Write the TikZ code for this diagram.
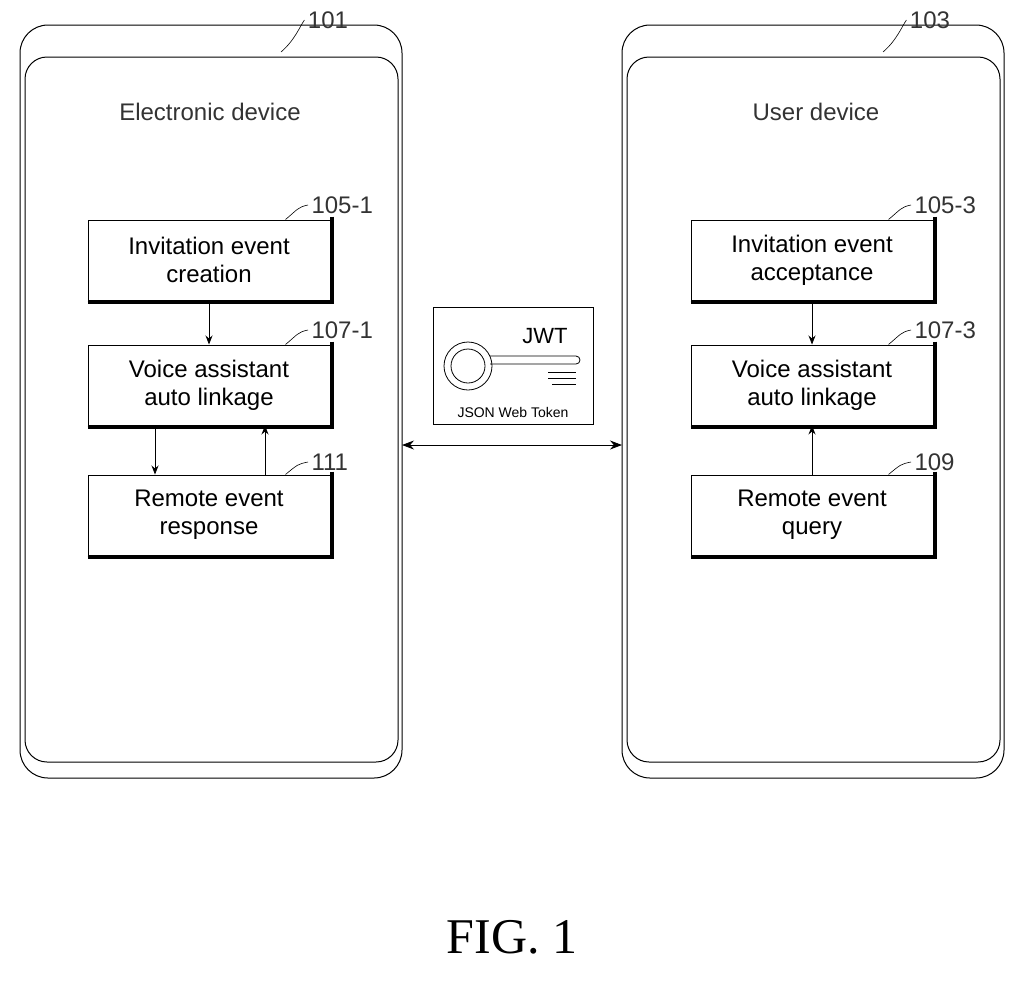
\documentclass[tikz,border=0pt]{standalone}
\usepackage{fontspec}
\setmainfont{Liberation Sans}
\newfontfamily\seriffont{Liberation Serif}
\usetikzlibrary{arrows.meta}
\begin{document}
\begin{tikzpicture}[x=1pt,y=-1pt,
  lab/.style={font=\fontsize{24}{28}\selectfont,text=black!80},
  blk/.style={draw,line width=1pt,minimum width=242pt,minimum height=80pt,align=center,font=\fontsize{24}{28}\selectfont,
    append after command={\pgfextra{\let\mynode\tikzlastnode}
      (\mynode.north east) ++(1.5pt,3pt) edge[draw,line width=4pt,-] ([xshift=1.5pt]\mynode.south east)
      ([yshift=-1.5pt]\mynode.south west) edge[draw,line width=3pt,-] ([xshift=3.5pt,yshift=-1.5pt]\mynode.south east)}},
  arr/.style={-{Stealth[length=9pt,width=7pt]},line width=0.8pt},
  lead/.style={line width=0.6pt}]
\useasboundingbox (0,0) rectangle (1024,1005);
% devices
\draw[line width=1pt,rounded corners=28pt] (20,25) rectangle (402,778);
\draw[line width=1pt,rounded corners=22pt] (25,57) rectangle (398,762);
\draw[line width=1pt,rounded corners=28pt] (622,25) rectangle (1004,778);
\draw[line width=1pt,rounded corners=22pt] (627,57) rectangle (1000,762);
\node[lab] (ed) at (210,112) {Electronic device};
\node[lab] (ud) at (816,112) {User device};
% blocks
\node[blk] (a1) at (209,260) {Invitation event\\creation};
\node[blk] (b1) at (209,385) {Voice assistant\\auto linkage};
\node[blk] (c1) at (209,515) {Remote event\\response};
\node[blk] (a3) at (812,260) {Invitation event\\acceptance};
\node[blk] (b3) at (812,385) {Voice assistant\\auto linkage};
\node[blk] (c3) at (812,515) {Remote event\\query};
\draw[arr] (a1.south) -- (b1.north);
\draw[arr] (b1.south -| 155,0) -- (c1.north -| 155,0);
\draw[arr] (c1.north -| 265,0) -- (b1.south -| 265,0);
\draw[arr] (a3.south) -- (b3.north);
\draw[arr] (c3.north) -- (b3.south);
% JWT
\node[draw,line width=0.8pt,minimum width=160pt,minimum height=117pt] (jwt) at (513,366) {};
\node[font=\fontsize{22}{24}\selectfont] (jwtt) at (545,336) {JWT};
\node[font=\fontsize{14}{16}\selectfont] (jwts) at (513,412) {JSON Web Token};
\coordinate (kc) at (468,366);
\draw[line width=0.8pt] (kc) circle (24pt);
\draw[line width=0.8pt] (kc) circle (17pt);
\draw[line width=0.8pt] (490,356) -- (576,356) arc (90:-90:4pt) -- (490,364);
\draw[line width=0.7pt] (548,372) -- (576,372) (548,378) -- (576,378) (552,384) -- (576,384);
\coordinate (la) at (402,445);
\coordinate (ra) at (622,445);
\draw[{Stealth[length=12pt,width=9pt]}-{Stealth[length=12pt,width=9pt]},line width=0.8pt] (la) -- (ra);
% labels
\node[lab] (l101) at (328,20) {101};
\draw[lead] (281,52) .. controls (295,40) and (300,26) .. (l101.west);
\node[lab] (l103) at (930,20) {103};
\draw[lead] (883,52) .. controls (897,40) and (902,26) .. (l103.west);
\node[lab,anchor=west] (l1051) at (308,205) {105-1};
\draw[lead] (a1.north east) ++(-45,0) .. controls +(12,-10) and +(-10,2) .. (l1051.west);
\node[lab,anchor=west] (l1071) at (308,330) {107-1};
\draw[lead] (b1.north east) ++(-45,0) .. controls +(12,-10) and +(-10,2) .. (l1071.west);
\node[lab,anchor=west] (l111) at (308,462) {111};
\draw[lead] (c1.north east) ++(-45,0) .. controls +(12,-10) and +(-10,2) .. (l111.west);
\node[lab,anchor=west] (l1053) at (911,205) {105-3};
\draw[lead] (a3.north east) ++(-45,0) .. controls +(12,-10) and +(-10,2) .. (l1053.west);
\node[lab,anchor=west] (l1073) at (911,330) {107-3};
\draw[lead] (b3.north east) ++(-45,0) .. controls +(12,-10) and +(-10,2) .. (l1073.west);
\node[lab,anchor=west] (l109) at (911,462) {109};
\draw[lead] (c3.north east) ++(-45,0) .. controls +(12,-10) and +(-10,2) .. (l109.west);
\node[font=\seriffont\fontsize{50}{54}\selectfont] (fig) at (512,937) {FIG. 1};
\end{tikzpicture}
\end{document}
